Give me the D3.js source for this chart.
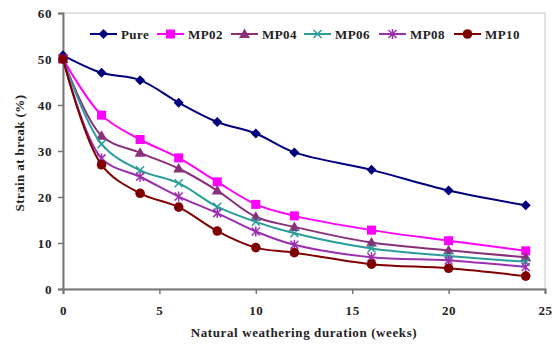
<!DOCTYPE html>
<html><head><meta charset="utf-8">
<script src="https://cdn.jsdelivr.net/npm/d3@7"></script>
<style>body{margin:0;background:#fff}svg{display:block}</style>
</head><body><svg id="c" width="557" height="346"></svg>
<script>
const weeks = [0, 2, 4, 6, 8, 10, 12, 16, 20, 24];
const seriesNames = ["Pure", "MP02", "MP04", "MP06", "MP08", "MP10"];
const pure = [50.8, 47.0, 45.4, 40.5, 36.3, 33.8, 29.7, 25.9, 21.4, 18.2];
const mp02 = [50.0, 37.8, 32.5, 28.5, 23.3, 18.4, 15.9, 12.8, 10.5, 8.3];
const mp04 = [50.0, 33.3, 29.6, 26.2, 21.4, 15.7, 13.5, 10.1, 8.4, 6.9];
const mp06 = [50.0, 31.5, 25.8, 23.0, 17.9, 14.6, 12.1, 8.8, 7.2, 5.9];
const mp08 = [50.0, 28.4, 24.4, 20.1, 16.5, 12.5, 9.6, 6.9, 6.2, 4.8];
const mp10 = [50.0, 27.0, 20.8, 17.8, 12.6, 9.0, 7.9, 5.4, 4.5, 2.8];
const xTicks = [0, 5, 10, 15, 20, 25];
const yTicks = [0, 10, 20, 30, 40, 50, 60];

const colors = ["#00007f", "#ff00ff", "#8b2f7b", "#2a9d9a", "#9b2fb0", "#800000"];
const markers = ["diamond", "square", "triangle", "x", "star", "circle"];
const values = [pure, mp02, mp04, mp06, mp08, mp10];
const FONT = '"Liberation Serif", "Times New Roman", serif';

const svg = d3.select("#c");
const L = 63, R = 545, T = 13, B = 289;
const x = d3.scaleLinear().domain([0, 25]).range([L, R]);
const y = d3.scaleLinear().domain([0, 60]).range([B, T]);

svg.append("rect").attr("x", L).attr("y", T).attr("width", R - L).attr("height", B - T)
  .attr("fill", "none").attr("stroke", "#c8c8c8").attr("stroke-width", 1);

const yAx = svg.append("g").attr("transform", `translate(${L},0)`)
  .call(d3.axisLeft(y).tickValues(yTicks).tickSize(5).tickPadding(6));
const xAx = svg.append("g").attr("transform", `translate(0,${B})`)
  .call(d3.axisBottom(x).tickValues(xTicks).tickSize(5).tickPadding(12));
[yAx, xAx].forEach(g => {
  g.attr("font-family", FONT).attr("font-size", 13).attr("font-weight", "bold");
  g.select(".domain").attr("stroke", "#777").attr("stroke-width", 2);
  g.selectAll(".tick line").attr("stroke", "#777").attr("stroke-width", 1.5);
  g.selectAll("text").attr("fill", "#222").attr("letter-spacing", "0.6px");
});

svg.append("text").attr("x", 304).attr("y", 337).attr("text-anchor", "middle")
  .attr("font-family", FONT).attr("font-weight", "bold").attr("letter-spacing", "0.6px")
  .attr("font-size", 13).attr("fill", "#222").text("Natural weathering duration (weeks)");
svg.append("text").attr("transform", `translate(24,${(T + B) / 2 + 2}) rotate(-90)`)
  .attr("font-family", FONT).attr("font-weight", "bold").attr("letter-spacing", "0.4px")
  .attr("text-anchor", "middle").attr("font-size", 13).attr("fill", "#222").text("Strain at break (%)");

function drawMarker(g, type, cx, cy, col) {
  const s = 5;
  if (type === "diamond") {
    g.append("path").attr("d", `M${cx},${cy - s}L${cx + s},${cy}L${cx},${cy + s}L${cx - s},${cy}Z`).attr("fill", col);
  } else if (type === "square") {
    g.append("rect").attr("x", cx - 4.5).attr("y", cy - 4.5).attr("width", 9).attr("height", 9).attr("fill", col);
  } else if (type === "triangle") {
    g.append("path").attr("d", `M${cx},${cy - 5.5}L${cx + 5.5},${cy + 4}L${cx - 5.5},${cy + 4}Z`).attr("fill", col);
  } else if (type === "circle") {
    g.append("circle").attr("cx", cx).attr("cy", cy).attr("r", 4.8).attr("fill", col);
  } else if (type === "x") {
    g.append("path").attr("d", `M${cx - 4},${cy - 4}L${cx + 4},${cy + 4}M${cx - 4},${cy + 4}L${cx + 4},${cy - 4}`)
      .attr("stroke", col).attr("stroke-width", 1.5).attr("fill", "none");
  } else if (type === "star") {
    g.append("path").attr("d", `M${cx - 4},${cy - 4}L${cx + 4},${cy + 4}M${cx - 4},${cy + 4}L${cx + 4},${cy - 4}M${cx},${cy - 5}L${cx},${cy + 5}`)
      .attr("stroke", col).attr("stroke-width", 1.5).attr("fill", "none");
  }
}

const line = d3.line().x((d, i) => x(weeks[i])).y(d => y(d)).curve(d3.curveCatmullRom.alpha(0.5));

values.forEach((vals, si) => {
  const g = svg.append("g");
  g.append("path").datum(vals).attr("d", line).attr("fill", "none")
    .attr("stroke", colors[si]).attr("stroke-width", 2);
  vals.forEach((v, i) => drawMarker(g, markers[si], x(weeks[i]), y(v), colors[si]));
});

const legX = [90, 157, 231, 304, 379, 454];
seriesNames.forEach((n, i) => {
  const g = svg.append("g");
  const lx = legX[i], ly = 34;
  g.append("line").attr("x1", lx).attr("x2", lx + 27).attr("y1", ly).attr("y2", ly)
    .attr("stroke", colors[i]).attr("stroke-width", 2);
  drawMarker(g, markers[i], lx + 13.5, ly, colors[i]);
  g.append("text").attr("x", lx + 31).attr("y", ly + 4.5).attr("font-size", 13)
    .attr("font-family", FONT).attr("font-weight", "bold").attr("letter-spacing", "0.4px")
    .attr("fill", "#222").text(n);
});
</script></body></html>
